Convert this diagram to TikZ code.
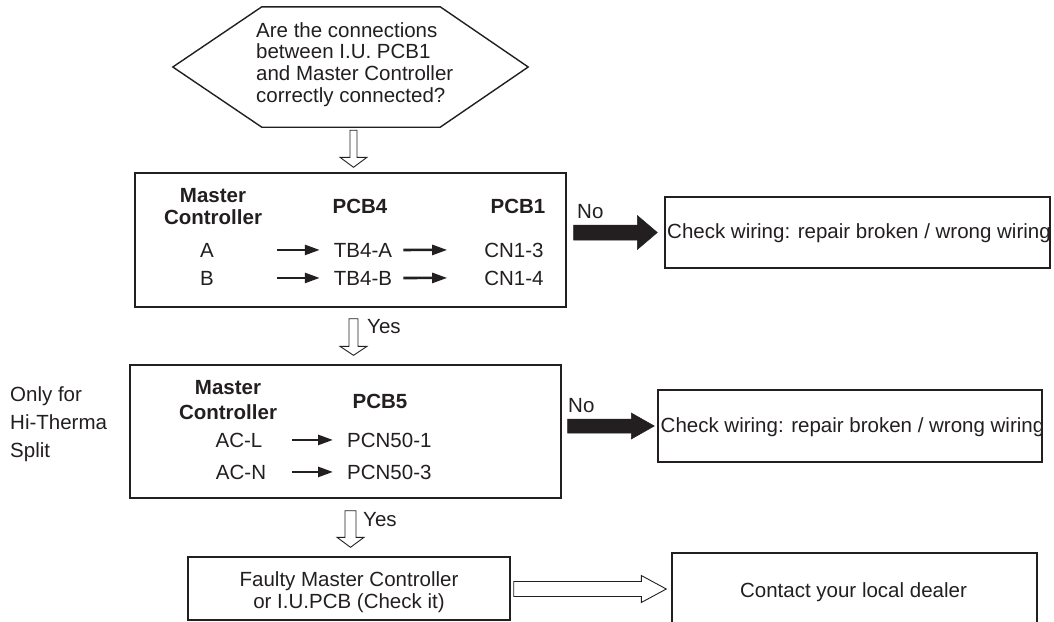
\documentclass[tikz,border=0pt]{standalone}
\usepackage{fontspec}
\setmainfont{Liberation Sans}
\usetikzlibrary{calc,arrows.meta}
\definecolor{ink}{HTML}{231F20}
% vertical fat arrow: style, from, to, shaft half, head half, head length, gap start, gap end
\newcommand{\fatdown}[8]{%
  \path[#1] let \p1=(#2), \p2=(#3) in
    (\x1-#4pt,\y1-#7pt) -- (\x1-#4pt,\y2+#8pt+#6pt) -- (\x1-#5pt,\y2+#8pt+#6pt)
    -- (\x1,\y2+#8pt) -- (\x1+#5pt,\y2+#8pt+#6pt) -- (\x1+#4pt,\y2+#8pt+#6pt)
    -- (\x1+#4pt,\y1-#7pt) -- cycle;}
% horizontal fat arrow (y taken from target)
\newcommand{\fatright}[8]{%
  \path[#1] let \p1=(#2), \p2=(#3) in
    (\x1+#7pt,\y2+#4pt) -- (\x2-#8pt-#6pt,\y2+#4pt) -- (\x2-#8pt-#6pt,\y2+#5pt)
    -- (\x2-#8pt,\y2) -- (\x2-#8pt-#6pt,\y2-#5pt) -- (\x2-#8pt-#6pt,\y2-#4pt)
    -- (\x1+#7pt,\y2-#4pt) -- cycle;}
\begin{document}
\begin{tikzpicture}[x=1pt,y=-1pt,
  box/.style={draw=ink, line width=1.4pt, inner sep=0pt},
  txt/.style={inner sep=0pt, text=ink, font=\fontsize{20.5}{22}\selectfont},
  btxt/.style={inner sep=0pt, text=ink, font=\fontsize{20.5}{22}\selectfont\bfseries},
  smallarr/.style={draw=ink, line width=2.6pt, -{Triangle[length=15pt,width=10pt]}},
  hollowarr/.style={draw=ink, line width=0.9pt, fill=white},
  blackarr/.style={draw=ink, line width=0.5pt, fill=ink},
  shapeline/.style={draw=ink, line width=1.4pt}]
\clip (0,0) rectangle (1054,621);
\fill[white] (0,0) rectangle (1054,621);

% decision hexagon
\node[inner sep=0pt, minimum width=355pt, minimum height=120pt] (hex) at (350.5,67) {};
\draw[shapeline] (hex.west) -- ([xshift=89pt]hex.north west) -- ([xshift=-88pt]hex.north east)
  -- (hex.east) -- ([xshift=-88pt]hex.south east) -- ([xshift=89pt]hex.south west) -- cycle;
\node[txt, align=left, anchor=north west, font=\fontsize{20.5}{21.7}\selectfont] (hextxt) at (256,22.2)
  {Are the connections\\between I.U. PCB1\\and Master Controller\\correctly connected?};

% box 1
\node[box, minimum width=431pt, minimum height=134pt] (b1) at (350.5,240) {};
\node[btxt, align=center, anchor=north] (mc1) at (213,188.2) {Master\\Controller};
\node[btxt, anchor=base] (pcb4) at (360,213) {PCB4};
\node[btxt, anchor=base] (pcb1) at (518,213) {PCB1};
\node[txt, anchor=base] (a) at (207,257) {A};
\node[txt, anchor=base] (b) at (207,285) {B};
\node[txt, anchor=base] (tb4a) at (363,257) {TB4-A};
\node[txt, anchor=base] (tb4b) at (363,285) {TB4-B};
\node[txt, anchor=base] (cn13) at (514,257) {CN1-3};
\node[txt, anchor=base] (cn14) at (514,285) {CN1-4};
\draw[smallarr, shorten <=63pt, shorten >=14pt] (a) -- (tb4a);
\draw[smallarr, shorten <=63pt, shorten >=14pt] (b) -- (tb4b);
\draw[smallarr, shorten <=11pt, shorten >=37pt] (tb4a) -- (cn13);
\draw[smallarr, shorten <=11pt, shorten >=37pt] (tb4b) -- (cn14);

% check box 1
\node[box, minimum width=385pt, minimum height=71pt] (chk1) at (857.5,232.5) {};
\node[txt, anchor=base west] (chk1txt) at (667,238) {Check wiring: repair broken / wrong wiring};
\node[txt, anchor=base west] (no1) at (577,218) {No};

% box 2
\node[box, minimum width=431pt, minimum height=133pt] (b2) at (345.5,431.5) {};
\node[btxt, align=center, anchor=north, font=\fontsize{20.5}{25}\selectfont\bfseries] (mc2) at (228,380.2) {Master\\Controller};
\node[btxt, anchor=base] (pcb5) at (380,408) {PCB5};
\node[txt, anchor=base] (acl) at (239,447) {AC-L};
\node[txt, anchor=base] (acn) at (241,479) {AC-N};
\node[txt, anchor=base west] (pcn1) at (347,447) {PCN50-1};
\node[txt, anchor=base west] (pcn3) at (347,479) {PCN50-3};
\draw[smallarr, shorten <=29.5pt, shorten >=14pt] (acl) -- (pcn1);
\draw[smallarr, shorten <=26pt, shorten >=14pt] (acn) -- (pcn3);
\node[txt, align=left, anchor=north west, font=\fontsize{20.5}{28}\selectfont] (only) at (10,386.8) {Only for\\Hi-Therma\\Split};

% check box 2
\node[box, minimum width=384pt, minimum height=72pt] (chk2) at (850,426) {};
\node[txt, anchor=base west] (chk2txt) at (660.5,432) {Check wiring: repair broken / wrong wiring};
\node[txt, anchor=base west] (no2) at (568,412) {No};

% faulty and contact
\node[box, minimum width=322pt, minimum height=63pt] (faulty) at (349,588.5) {};
\node[txt, align=center, anchor=north] (faultytxt) at (349,571.2) {Faulty Master Controller\\or I.U.PCB (Check it)};
\node[box, minimum width=365pt, minimum height=72pt] (contact) at (854.5,589) {};
\node[txt, anchor=base] (contacttxt) at (853.5,597) {Contact your local dealer};

% yes labels
\node[txt, anchor=base west] (yes1) at (367,333) {Yes};
\node[txt, anchor=base west] (yes2) at (363,526) {Yes};

% connectors
\fatdown{hollowarr}{[xshift=3pt]hex.south}{b1.north}{3.5}{13.5}{10}{3}{5}
\fatdown{hollowarr}{[xshift=3pt]b1.south}{b2.north}{4.5}{13.5}{9}{11}{9}
\fatdown{hollowarr}{[xshift=5pt]b2.south}{faulty.north}{5.5}{13.5}{10}{12}{9}
\fatright{blackarr}{b1.east}{chk1.west}{7.5}{17}{20}{7}{7}
\fatright{blackarr}{b2.east}{chk2.west}{7}{13}{23}{6}{3}
\fatright{hollowarr}{faulty.east}{contact.west}{7.5}{13.5}{25}{3}{5}
\end{tikzpicture}
\end{document}
